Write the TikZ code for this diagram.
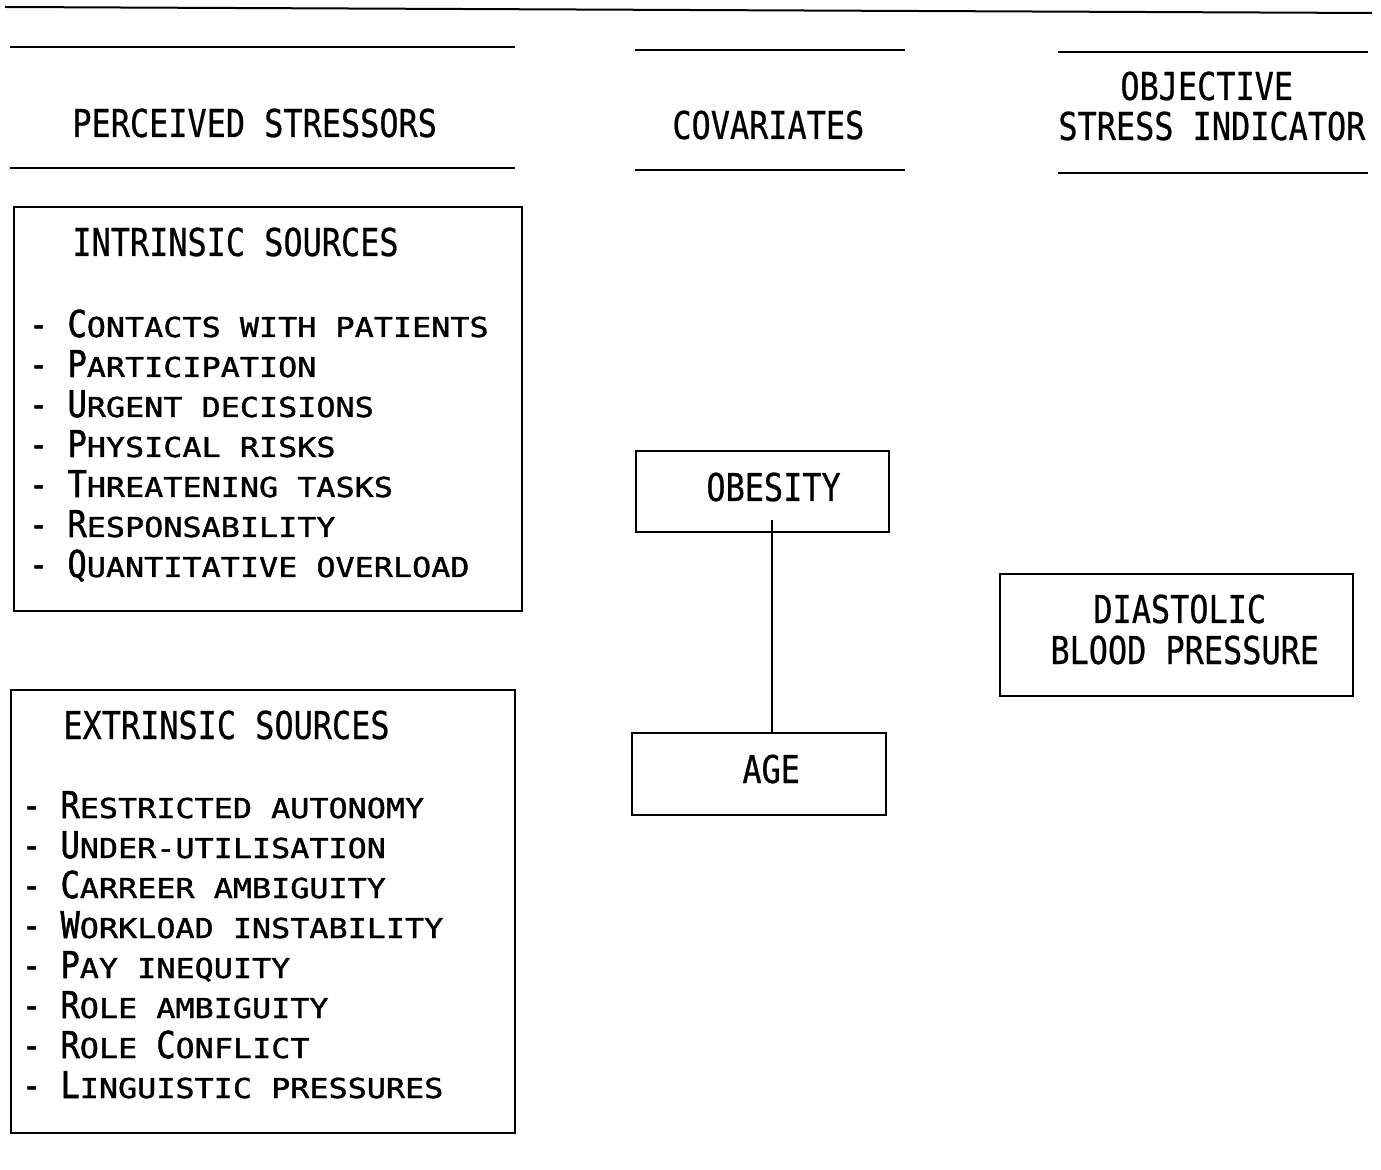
\documentclass[tikz,border=0pt]{standalone}
\usepackage{fontspec}
\newfontfamily\hdrfont[FakeStretch=0.83,FakeBold=0.6]{DejaVu Sans Mono}
\newfontfamily\bigcfont[FakeStretch=0.865,FakeBold=1.4]{DejaVu Sans Mono}
\newfontfamily\smcfont[FakeStretch=1.16,FakeBold=1.4]{DejaVu Sans Mono}
\newcommand\hf{\hdrfont\fontsize{19.2pt}{23pt}\selectfont}
\newcommand\bcap[1]{{\bigcfont\fontsize{18.5pt}{22pt}\selectfont #1}}
\newcommand\smc[1]{{\smcfont\fontsize{13.7pt}{16pt}\selectfont #1}}
\newcommand\dsh{\bcap{- }}
\begin{document}
\begin{tikzpicture}[x=0.5pt,y=-0.5pt,
  rule/.style={line width=1pt},
  conn/.style={line width=1.2pt},
  boxst/.style={draw,line width=1.1pt,rectangle,inner sep=0pt},
  txt/.style={inner sep=0pt,anchor=base west}]
\useasboundingbox (0,0) rectangle (1381,1170);

% rules
\draw[rule] (5,7) -- (1372,13);
\draw[rule] (10,47) -- (515,47);
\draw[rule] (10,168) -- (515,168);
\draw[rule] (635,50) -- (905,50);
\draw[rule] (635,170) -- (905,170);
\draw[rule] (1058,52) -- (1368,52);
\draw[rule] (1058,173) -- (1368,173);

% headers
\node[txt] (hperc) at (72,137) {\hf PERCEIVED STRESSORS};
\node[txt] (hcov) at (672,139) {\hf COVARIATES};
\node[txt] (hobj1) at (1120,100) {\hf OBJECTIVE};
\node[txt] (hobj2) at (1058,140) {\hf STRESS INDICATOR};

% boxes
\node[boxst,minimum width=254pt,minimum height=202pt] (intr) at (268,409) {};
\node[boxst,minimum width=252pt,minimum height=221.5pt] (extr) at (263,911.5) {};
\node[boxst,minimum width=126.5pt,minimum height=40.5pt] (obes) at (762.5,491.5) {};
\node[boxst,minimum width=127pt,minimum height=41pt] (age) at (759,774) {};
\node[boxst,minimum width=176.5pt,minimum height=61pt] (dbp) at (1176.5,635) {};

% box texts
\node[txt] (intrt) at (72,256) {\hf INTRINSIC SOURCES};
\node[txt] (i1) at (28.6,337) {\dsh\bcap{C}\smc{ONTACTS WITH PATIENTS}};
\node[txt] (i2) at (28.6,377) {\dsh\bcap{P}\smc{ARTICIPATION}};
\node[txt] (i3) at (28.6,417) {\dsh\bcap{U}\smc{RGENT DECISIONS}};
\node[txt] (i4) at (28.6,457) {\dsh\bcap{P}\smc{HYSICAL RISKS}};
\node[txt] (i5) at (28.6,497) {\dsh\bcap{T}\smc{HREATENING TASKS}};
\node[txt] (i6) at (28.6,537) {\dsh\bcap{R}\smc{ESPONSABILITY}};
\node[txt] (i7) at (28.6,577) {\dsh\bcap{Q}\smc{UANTITATIVE OVERLOAD}};

\node[txt] (extrt) at (63,739) {\hf EXTRINSIC SOURCES};
\node[txt] (e1) at (21.6,818) {\dsh\bcap{R}\smc{ESTRICTED AUTONOMY}};
\node[txt] (e2) at (21.6,858) {\dsh\bcap{U}\smc{NDER-UTILISATION}};
\node[txt] (e3) at (21.6,898) {\dsh\bcap{C}\smc{ARREER AMBIGUITY}};
\node[txt] (e4) at (21.6,938) {\dsh\bcap{W}\smc{ORKLOAD INSTABILITY}};
\node[txt] (e5) at (21.6,978) {\dsh\bcap{P}\smc{AY INEQUITY}};
\node[txt] (e6) at (21.6,1018) {\dsh\bcap{R}\smc{OLE AMBIGUITY}};
\node[txt] (e7) at (21.6,1058) {\dsh\bcap{R}\smc{OLE }\bcap{C}\smc{ONFLICT}};
\node[txt] (e8) at (21.6,1098) {\dsh\bcap{L}\smc{INGUISTIC PRESSURES}};

\node[txt] (obest) at (706,501) {\hf OBESITY};
\node[txt] (aget) at (742,783) {\hf AGE};
\node[txt] (dbp1) at (1093,623) {\hf DIASTOLIC};
\node[txt] (dbp2) at (1050,664) {\hf BLOOD PRESSURE};

% connector
\coordinate (obtail) at (772,520);
\draw[conn] (obtail) -- (obtail |- age.north);
\end{tikzpicture}
\end{document}
